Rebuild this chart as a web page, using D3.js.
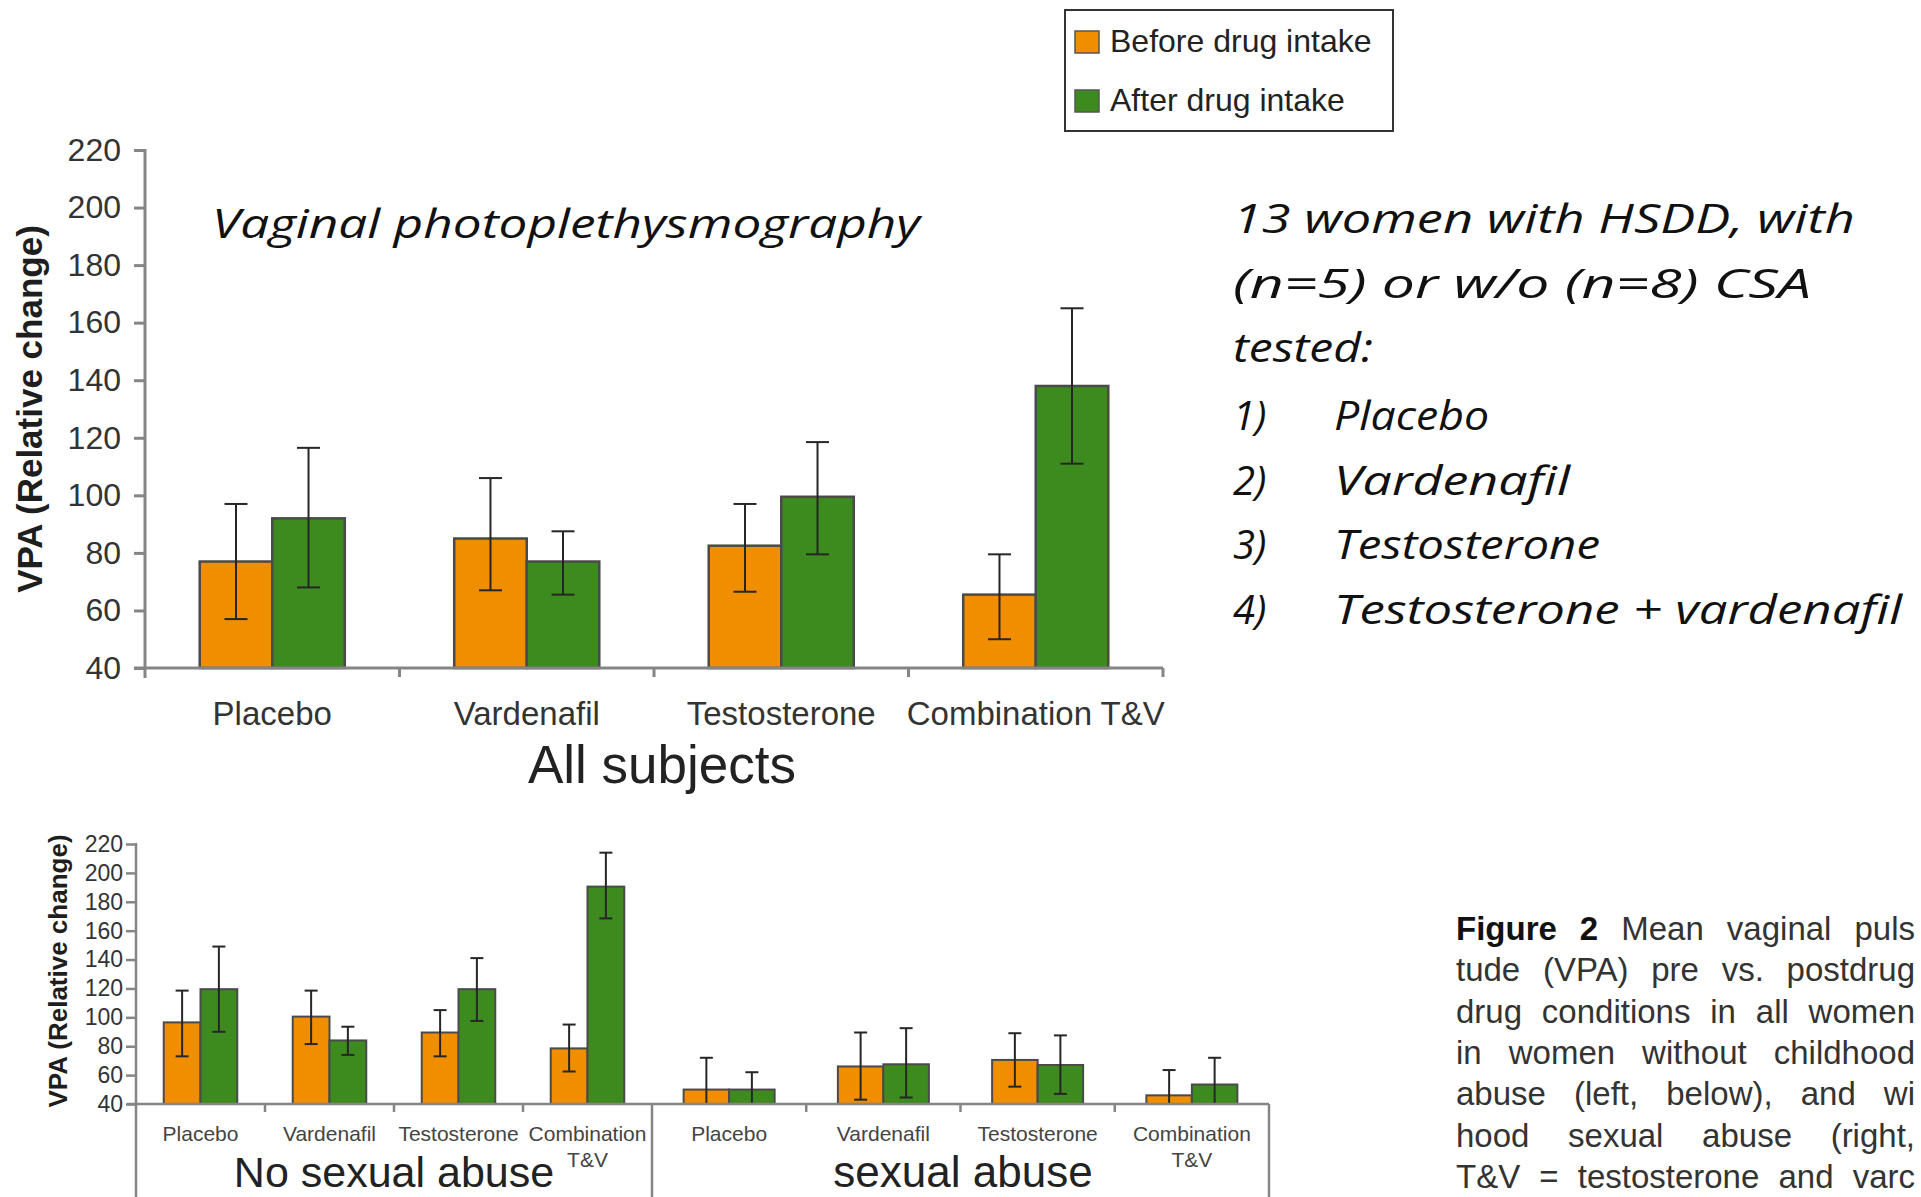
<!DOCTYPE html>
<html>
<head>
<meta charset="utf-8">
<script src="https://cdn.jsdelivr.net/npm/d3@7"></script>
<style>
body{margin:0;background:#fff;}
svg{display:block;}
.sans{font-family:"Liberation Sans",Arial,Helvetica,sans-serif;}
.hand{font-family:"Open Sans","DejaVu Sans",sans-serif;font-style:italic;font-weight:400;fill:#111;}
</style>
</head>
<body>
<script>
// ---- data ----
const categories = ["Placebo", "Vardenafil", "Testosterone", "Combination T&V"];
const seriesNames = ["Before drug intake", "After drug intake"];
const yTicks = [40, 60, 80, 100, 120, 140, 160, 180, 200, 220];

// all subjects
const allBefore = [77, 85, 82.5, 65.5];
const allBeforeErr = [[57, 97], [67, 106], [66.5, 97], [50, 79.5]];
const allAfter = [92, 77, 99.5, 138];
const allAfterErr = [[68, 116.5], [65.5, 87.5], [79.5, 118.5], [111, 165]];

// no sexual abuse
const nsaBefore = [96.5, 100.5, 89.5, 78.5];
const nsaBeforeErr = [[73, 118.5], [81.5, 118.5], [73, 105], [62.5, 95]];
const nsaAfter = [119.5, 84, 119.5, 190.5];
const nsaAfterErr = [[90, 149], [74, 93.5], [97.5, 141], [168.5, 214]];

// sexual abuse
const saBefore = [50, 66, 70.5, 46];
const saBeforeErr = [[28, 72], [43, 89.5], [52, 89], [28.5, 63.5]];
const saAfter = [50, 67.5, 67, 53.5];
const saAfterErr = [[38, 62], [44.5, 92.5], [47, 87.5], [35, 72]];

const bottomLabels = [["Placebo"], ["Vardenafil"], ["Testosterone"], ["Combination", "T&V"]];

const noteLines = ["13 women with HSDD, with", "(n=5) or w/o (n=8) CSA", "tested:"];
const noteItems = ["Placebo", "Vardenafil", "Testosterone", "Testosterone + vardenafil"];

const captionLines = [
  "Mean vaginal puls",
  "tude (VPA) pre vs. postdrug",
  "drug conditions in all women",
  "in women without childhood",
  "abuse (left, below), and wi",
  "hood sexual abuse (right,",
  "T&V = testosterone and varc"
];

const colors = ["#f08e00", "#3d8b1f"];
const axisColor = "#858585";

const svg = d3.select("body").append("svg")
  .attr("width", 1921).attr("height", 1197)
  .attr("class", "sans");

// one panel of grouped bars with error bars
function drawBars(cfg) {
  const x0 = d3.scaleBand().domain(cfg.cats)
    .range([cfg.left, cfg.right])
    .paddingInner(cfg.pad).paddingOuter(cfg.pad / 2);
  const x1 = d3.scaleBand().domain([0, 1]).range([0, x0.bandwidth()]);
  const y = cfg.y;

  const clipId = "clip" + cfg.id;
  svg.append("clipPath").attr("id", clipId)
    .append("rect").attr("x", -3000).attr("y", 0)
    .attr("width", 6000).attr("height", y(40) - 1);

  const rows = cfg.cats.map((c, i) => ({
    c: c,
    vals: [cfg.before[i], cfg.after[i]],
    errs: [cfg.beforeErr[i], cfg.afterErr[i]]
  }));

  const grp = svg.append("g").selectAll("g").data(rows).join("g")
    .attr("transform", d => `translate(${x0(d.c)},0)`);

  grp.selectAll("rect").data(d => d.vals.map((v, k) => ({v, k}))).join("rect")
    .attr("x", d => x1(d.k))
    .attr("width", x1.bandwidth())
    .attr("y", d => y(d.v))
    .attr("height", d => y(40) - y(d.v))
    .attr("fill", d => colors[d.k])
    .attr("stroke", "#4a4a4a")
    .attr("stroke-width", cfg.barStroke);

  const eb = grp.append("g").attr("clip-path", `url(#${clipId})`)
    .selectAll("g").data(d => d.errs.map((e, k) => ({e, k}))).join("g")
    .attr("stroke", "#262626").attr("stroke-width", cfg.errStroke);
  const cx = d => x1(d.k) + x1.bandwidth() / 2;
  eb.append("line")
    .attr("x1", cx).attr("x2", cx)
    .attr("y1", d => y(d.e[0])).attr("y2", d => y(d.e[1]));
  eb.selectAll("line.cap").data(d => [[d, 0], [d, 1]]).join("line")
    .attr("class", "cap")
    .attr("x1", p => cx(p[0]) - cfg.cap / 2).attr("x2", p => cx(p[0]) + cfg.cap / 2)
    .attr("y1", p => y(p[0].e[p[1]])).attr("y2", p => y(p[0].e[p[1]]));

  // boundary ticks on x axis
  const ends = cfg.cats.map(c => x0(c) + x0.bandwidth() + (x0.step() - x0.bandwidth()) / 2)
    .slice(0, cfg.lastTick ? cfg.cats.length : cfg.cats.length - 1);
  svg.append("g").selectAll("line").data(ends).join("line")
    .attr("x1", d => d).attr("x2", d => d)
    .attr("y1", y(40)).attr("y2", y(40) + cfg.xTick)
    .attr("stroke", axisColor).attr("stroke-width", cfg.axisW);

  return x0;
}

function drawYAxis(y, left, tick, pad, font, bottomEnd, axisW) {
  const ya = svg.append("g")
    .attr("transform", `translate(${left},0)`)
    .call(d3.axisLeft(y).tickValues(yTicks).tickSize(tick).tickPadding(pad));
  ya.attr("font-family", null);
  ya.select(".domain").remove();
  ya.selectAll("line").attr("stroke", axisColor).attr("stroke-width", axisW);
  ya.selectAll("text").attr("font-size", font).attr("fill", "#333");
  svg.append("line")
    .attr("x1", left).attr("x2", left)
    .attr("y1", y(220) - 1).attr("y2", bottomEnd)
    .attr("stroke", axisColor).attr("stroke-width", axisW);
}

// ---------- top chart: all subjects ----------
const topY = d3.scaleLinear().domain([40, 220]).range([668, 150]);
const topX = drawBars({
  id: "top", cats: categories, left: 145, right: 1163, pad: 0.43, y: topY,
  before: allBefore, beforeErr: allBeforeErr, after: allAfter, afterErr: allAfterErr,
  barStroke: 2.5, errStroke: 2, cap: 23, xTick: 9, axisW: 3, lastTick: true
});
drawYAxis(topY, 145, 11, 13, 32, 678, 3);
svg.append("line")
  .attr("x1", 134).attr("x2", 1163).attr("y1", topY(40)).attr("y2", topY(40))
  .attr("stroke", axisColor).attr("stroke-width", 3);

svg.append("g").selectAll("text").data(categories).join("text")
  .attr("x", d => topX(d) + topX.bandwidth() / 2)
  .attr("y", 725)
  .attr("text-anchor", "middle")
  .attr("font-size", 33).attr("fill", "#333")
  .text(d => d);

svg.append("text").attr("x", 662).attr("y", 783)
  .attr("text-anchor", "middle").attr("font-size", 53).attr("fill", "#222")
  .text("All subjects");

svg.append("text")
  .attr("transform", "translate(30,409) rotate(-90)")
  .attr("text-anchor", "middle").attr("dy", "0.35em")
  .attr("font-size", 35).attr("font-weight", "bold").attr("fill", "#1e1e1e")
  .text("VPA (Relative change)");

// ---------- bottom chart: no abuse / abuse ----------
const botY = d3.scaleLinear().domain([40, 220]).range([1104, 844]);
const nsaX = drawBars({
  id: "nsa", cats: categories, left: 136, right: 652, pad: 0.43, y: botY,
  before: nsaBefore, beforeErr: nsaBeforeErr, after: nsaAfter, afterErr: nsaAfterErr,
  barStroke: 2, errStroke: 2, cap: 13, xTick: 8, axisW: 2.5, lastTick: false
});
const saX = drawBars({
  id: "sa", cats: categories, left: 652, right: 1269, pad: 0.41, y: botY,
  before: saBefore, beforeErr: saBeforeErr, after: saAfter, afterErr: saAfterErr,
  barStroke: 2, errStroke: 2, cap: 13, xTick: 8, axisW: 2.5, lastTick: false
});
drawYAxis(botY, 136, 10, 3, 23, 1197, 2.5);
svg.append("line")
  .attr("x1", 127).attr("x2", 1269).attr("y1", botY(40)).attr("y2", botY(40))
  .attr("stroke", axisColor).attr("stroke-width", 2.5);
[652, 1269].forEach(xv => {
  svg.append("line")
    .attr("x1", xv).attr("x2", xv).attr("y1", botY(40)).attr("y2", 1197)
    .attr("stroke", axisColor).attr("stroke-width", 2.5);
});

[nsaX, saX].forEach(sc => {
  const lab = svg.append("g").selectAll("text").data(categories).join("text")
    .attr("text-anchor", "middle")
    .attr("font-size", 21).attr("fill", "#444");
  lab.selectAll("tspan").data((d, i) => bottomLabels[i].map(t => ({t, c: d}))).join("tspan")
    .attr("x", d => sc(d.c) + sc.bandwidth() / 2)
    .attr("y", (d, j) => 1141 + j * 26)
    .text(d => d.t);
});

svg.append("text").attr("x", 394).attr("y", 1187)
  .attr("text-anchor", "middle").attr("font-size", 43).attr("fill", "#222")
  .text("No sexual abuse");
svg.append("text").attr("x", 963).attr("y", 1187)
  .attr("text-anchor", "middle").attr("font-size", 44).attr("fill", "#222")
  .text("sexual abuse");

svg.append("text")
  .attr("transform", "translate(58,971) rotate(-90)")
  .attr("text-anchor", "middle").attr("dy", "0.35em")
  .attr("font-size", 26).attr("font-weight", "bold").attr("fill", "#1e1e1e")
  .text("VPA (Relative change)");

// ---------- legend ----------
const leg = svg.append("g");
leg.append("rect").attr("x", 1065).attr("y", 10).attr("width", 328).attr("height", 121)
  .attr("fill", "#fff").attr("stroke", "#333").attr("stroke-width", 2);
const li = leg.selectAll("g.item").data(seriesNames).join("g").attr("class", "item")
  .attr("transform", (d, i) => `translate(1075,${31 + i * 59})`);
li.append("rect").attr("width", 24).attr("height", 22)
  .attr("fill", (d, i) => colors[i]).attr("stroke", "#555").attr("stroke-width", 1.5);
li.append("text").attr("x", 35).attr("y", 21)
  .attr("font-size", 32).attr("fill", "#222").text(d => d);

// ---------- handwritten notes ----------
svg.append("text").attr("class", "hand")
  .attr("x", 212).attr("y", 238).attr("font-size", 40)
  .attr("textLength", 708).attr("lengthAdjust", "spacingAndGlyphs")
  .text("Vaginal photoplethysmography");

const noteW = [622, 578, 140];
const noteBase = [233, 298, 362];
noteLines.forEach((t, i) => {
  svg.append("text").attr("class", "hand")
    .attr("x", 1233).attr("y", noteBase[i]).attr("font-size", 40)
    .attr("textLength", noteW[i]).attr("lengthAdjust", "spacingAndGlyphs")
    .text(t);
});
const itemW = [155, 236, 266, 568];
noteItems.forEach((t, i) => {
  const yb = 430 + i * 64.5;
  svg.append("text").attr("class", "hand")
    .attr("x", 1233).attr("y", yb).attr("font-size", 40)
    .text((i + 1) + ")");
  svg.append("text").attr("class", "hand")
    .attr("x", 1334).attr("y", yb).attr("font-size", 40)
    .attr("textLength", itemW[i]).attr("lengthAdjust", "spacingAndGlyphs")
    .text(t);
});

// ---------- caption: justified lines ending at the right edge ----------
const capLeft = 1456, capRight = 1915;
captionLines.forEach((t, i) => {
  const tx = svg.append("text")
    .attr("x", capLeft).attr("y", 940 + i * 41.3)
    .attr("font-size", 33).attr("fill", "#333");
  let full = t;
  if (i === 0) {
    tx.append("tspan").attr("font-weight", "bold").attr("fill", "#111").text("Figure 2");
    tx.append("tspan").text(" " + t);
    full = "Figure 2 " + t;
  } else {
    tx.text(t);
  }
  const w = tx.node().getComputedTextLength();
  const gaps = full.split(" ").length - 1;
  const extra = (capRight - capLeft - w) / gaps;
  tx.attr("word-spacing", extra);
});
</script>
</body>
</html>
